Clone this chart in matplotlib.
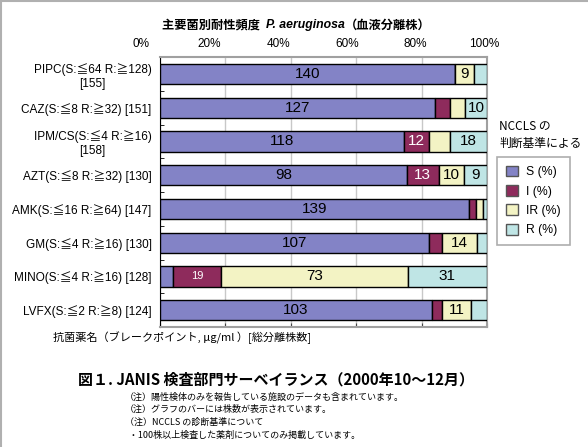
import numpy as np
import matplotlib
matplotlib.use('Agg')
import matplotlib.pyplot as plt
from matplotlib.patches import Patch

plt.rcParams['font.family'] = ['Noto Sans CJK JP', 'DejaVu Sans']
latin = ['Liberation Sans', 'Noto Sans CJK JP', 'DejaVu Sans']

# drug labels (breakpoint, total isolates)
drugs = ['PIPC(S:≦64 R:≧128)\n[155]', 'CAZ(S:≦8 R:≧32) [151]',
         'IPM/CS(S:≦4 R:≧16)\n[158]', 'AZT(S:≦8 R:≧32) [130]',
         'AMK(S:≦16 R:≧64) [147]', 'GM(S:≦4 R:≧16) [130]',
         'MINO(S:≦4 R:≧16) [128]', 'LVFX(S:≦2 R:≧8) [124]']
# isolate counts per category
s_cnt = [140, 127, 118, 98, 139, 107, 5, 103]
i_cnt = [0, 7, 12, 13, 3, 5, 19, 4]
ir_cnt = [9, 7, 10, 10, 3, 14, 73, 11]
r_cnt = [6, 10, 18, 9, 2, 4, 31, 6]
# which counts are printed on the bars in the original
s_show = [1, 1, 1, 1, 1, 1, 0, 1]
i_show = [0, 0, 1, 1, 0, 0, 1, 0]
ir_show = [1, 0, 0, 1, 0, 1, 1, 1]
r_show = [0, 1, 1, 1, 0, 0, 1, 0]
xticks = [0, 20, 40, 60, 80, 100]

series = [('S (%)', s_cnt, s_show, '#8383c6', 'black'),
          ('I (%)', i_cnt, i_show, '#8e2b5c', 'white'),
          ('IR (%)', ir_cnt, ir_show, '#f3f3c4', 'black'),
          ('R (%)', r_cnt, r_show, '#bfe5e5', 'black')]

counts = np.array([s_cnt, i_cnt, ir_cnt, r_cnt], dtype=float)
totals = counts.sum(axis=0)
pct = counts / totals * 100

fig = plt.figure(figsize=(5.88, 4.47), dpi=100)
ax = fig.add_axes([160/588, 1-327/447, 327/588, 270/447])

y = np.arange(len(drugs))
left = np.zeros(len(drugs))
for k, (name, cnt, show, col, tcol) in enumerate(series):
    ax.barh(y, pct[k], left=left, height=0.6, color=col, edgecolor='black',
            linewidth=1, zorder=3)
    for j, c in enumerate(cnt):
        if show[j]:
            small = (k == 1 and j == 6)
            ax.text(left[j] + pct[k][j]/2, y[j], str(c), ha='center', va='center',
                    color=tcol, fontsize=8 if small else 11,
                    family=latin, zorder=4)
    left += pct[k]

ax.set_xlim(0, 100)
ax.set_ylim(len(drugs)-0.5, -0.5)
ax.set_xticks(xticks)
ax.tick_params(axis='x', labeltop=False, labelbottom=False, top=False, bottom=True,
               direction='in', length=3, color='#444444')
ax.set_yticks(y)
ax.set_yticklabels(drugs, fontsize=8.5, multialignment='center', family=latin)
ax.set_yticks(np.arange(len(drugs)-1) + 0.5, minor=True)
ax.tick_params(axis='y', which='major', length=0, pad=6)
ax.tick_params(axis='y', which='minor', direction='in', length=3, color='black')
ax.grid(axis='x', color='#c8c8c8', linewidth=1, zorder=0)
for sp in ['top', 'right', 'bottom']:
    ax.spines[sp].set_color('#a0a0a0')
    ax.spines[sp].set_linewidth(1.5)
ax.spines['left'].set_color('black')

# percent labels on top: spread a little wider than the grid in the original
for t in xticks:
    ax.text(-5.8 + t * 1.049, 1.048, f'{t}%', transform=ax.get_xaxis_transform(),
            ha='center', va='center', fontsize=8.5, family=latin, clip_on=False)

# title in pieces: bold CJK, bold italic species, bold CJK
fig.canvas.draw()
r = fig.canvas.get_renderer()
xpos = 162/588
parts = [('主要菌別耐性頻度  ', 'normal', ['Noto Sans CJK JP']),
         ('P. aeruginosa', 'italic', ['Liberation Sans']),
         ('（血液分離株）', 'normal', ['Noto Sans CJK JP'])]
for txt, st, fam in parts:
    t = fig.text(xpos, 1-25/447, txt, fontsize=8.8, fontweight='bold', style=st,
                 family=fam, ha='left', va='center')
    bb = t.get_window_extent(renderer=r)
    xpos += bb.width / fig.bbox.width

fig.text(499/588, 1-135/447, 'NCCLS の\n判断基準による', fontsize=8.5,
         ha='left', va='center', linespacing=1.4)
handles = [Patch(facecolor=s[3], edgecolor='#555555', label=s[0]) for s in series]
leg = fig.legend(handles=handles, loc='upper left', bbox_to_anchor=(497/588, 1-157/447),
                 prop={'family': latin, 'size': 8.8}, frameon=True, fancybox=False,
                 edgecolor='#999999', handlelength=1.0, handleheight=1.0,
                 labelspacing=0.55, borderpad=0.7, borderaxespad=0, handletextpad=0.7)
leg.get_frame().set_linewidth(1.2)

fig.text(53/588, 1-338/447, '抗菌薬名（ブレークポイント, μg/ml ）[総分離株数]',
         fontsize=8, ha='left', va='center')
fig.text(276/588, 1-380/447, '図１. JANIS 検査部門サーベイランス（2000年10〜12月）',
         fontsize=10.8, fontweight='bold', ha='center', va='center')
notes = ['（注）陽性検体のみを報告している施設のデータも含まれています。',
         '（注）グラフのバーには株数が表示されています。',
         '（注）NCCLS の診断基準について',
         '  ・100株以上検査した薬剤についてのみ掲載しています。']
for n, line in enumerate(notes):
    fig.text(125/588, 1-(397 + n*12.7)/447, line, fontsize=6.5, ha='left', va='center')

# light gray frame on top and left edge
fig.add_artist(plt.Line2D([0, 1], [1-1/447, 1-1/447], color='#b0b0b0', lw=1.5,
                          transform=fig.transFigure))
fig.add_artist(plt.Line2D([1/588, 1/588], [0, 1], color='#b0b0b0', lw=1.5,
                          transform=fig.transFigure))

fig.savefig('out.png', dpi=100)
